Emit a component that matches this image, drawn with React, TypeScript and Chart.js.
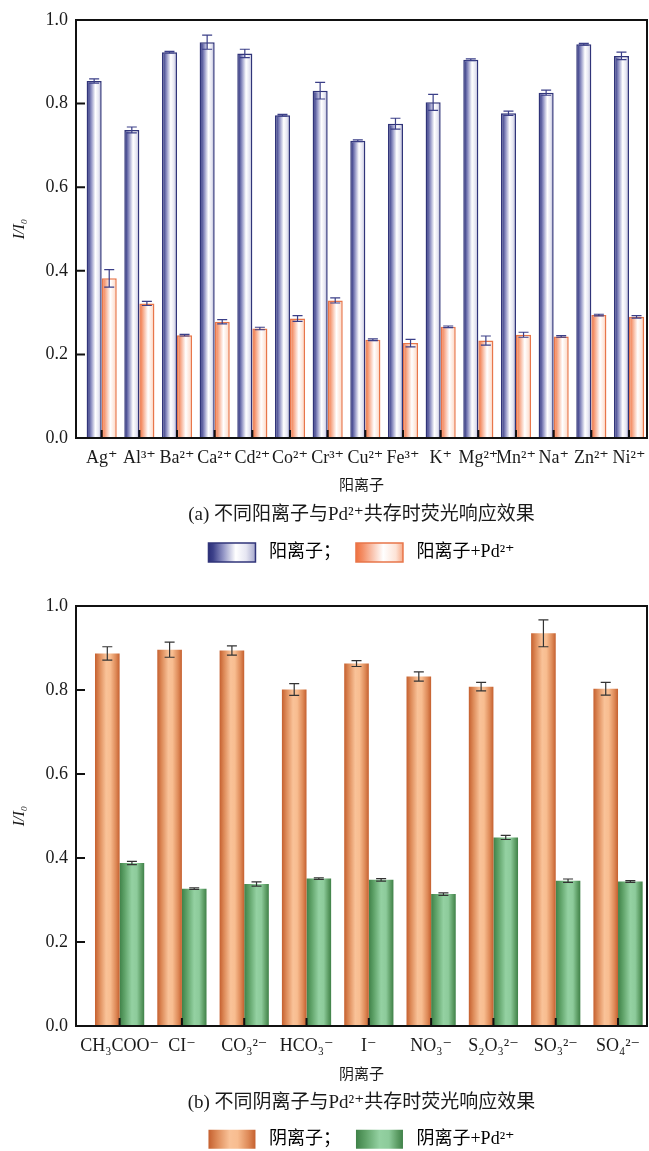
import { useEffect, useRef } from 'react';
import { Chart, registerables } from 'chart.js';

Chart.register(...registerables);

const SERIF = "'Liberation Serif', 'DejaVu Serif', 'Noto Sans CJK SC', serif";
const TEXT = '#1a1a1a';

// ---------- panel (a): cations ----------
const CATIONS = ['Ag⁺', 'Al³⁺', 'Ba²⁺', 'Ca²⁺', 'Cd²⁺', 'Co²⁺', 'Cr³⁺', 'Cu²⁺', 'Fe³⁺', 'K⁺', 'Mg²⁺', 'Mn²⁺', 'Na⁺', 'Zn²⁺', 'Ni²⁺'];
const CATION_ALONE = [0.854, 0.737, 0.923, 0.947, 0.920, 0.772, 0.831, 0.711, 0.752, 0.803, 0.905, 0.777, 0.826, 0.942, 0.914];
const CATION_ALONE_ERR = [0.005, 0.007, 0.002, 0.017, 0.010, 0.002, 0.020, 0.002, 0.013, 0.019, 0.002, 0.005, 0.006, 0.002, 0.009];
const CATION_PD = [0.382, 0.322, 0.246, 0.278, 0.262, 0.286, 0.329, 0.235, 0.227, 0.266, 0.233, 0.247, 0.243, 0.294, 0.290];
const CATION_PD_ERR = [0.021, 0.005, 0.002, 0.005, 0.003, 0.007, 0.006, 0.002, 0.009, 0.002, 0.011, 0.006, 0.002, 0.002, 0.003];
const LEGEND_A = [' 阳离子；', ' 阳离子+Pd²⁺'];

// ---------- panel (b): anions ----------
const ANIONS = ['CH₃COO⁻', 'CI⁻', 'CO₃²⁻', 'HCO₃⁻', 'I⁻', 'NO₃⁻', 'S₂O₃²⁻', 'SO₃²⁻', 'SO₄²⁻'];
const ANION_ALONE = [0.887, 0.896, 0.894, 0.801, 0.863, 0.832, 0.808, 0.935, 0.803];
const ANION_ALONE_ERR = [0.016, 0.018, 0.011, 0.014, 0.007, 0.011, 0.010, 0.032, 0.015];
const ANION_PD = [0.388, 0.327, 0.338, 0.351, 0.348, 0.314, 0.449, 0.346, 0.344];
const ANION_PD_ERR = [0.004, 0.002, 0.005, 0.002, 0.003, 0.003, 0.005, 0.004, 0.002];
const LEGEND_B = [' 阴离子；', ' 阴离子+Pd²⁺'];

const Y_TICKS = [0, 0.2, 0.4, 0.6, 0.8, 1.0];

type Stop = [number, string];

const A_BLUE: Stop[] = [[0, '#2c307a'], [0.1, '#3d418a'], [0.32, '#9496c6'], [0.58, '#ffffff'], [0.8, '#e6e6f2'], [1, '#a6a8cc']];
const A_ORANGE: Stop[] = [[0, '#f0703e'], [0.15, '#f49068'], [0.58, '#ffffff'], [0.85, '#fde3d6'], [1, '#f6aa88']];
const B_ORANGE: Stop[] = [[0, '#c5602f'], [0.18, '#dd8a58'], [0.45, '#f9c298'], [0.62, '#f8bd90'], [0.85, '#de8a58'], [1, '#c5602f']];
const B_GREEN: Stop[] = [[0, '#3f8148'], [0.2, '#5fa268'], [0.5, '#94d1a2'], [0.7, '#8dcb9b'], [0.88, '#5e9e66'], [1, '#3f8148']];

function grad(ctx: CanvasRenderingContext2D, x0: number, x1: number, stops: Stop[]) {
  const g = ctx.createLinearGradient(x0, 0, x1, 0);
  for (const [o, c] of stops) g.addColorStop(o, c);
  return g;
}

interface PanelSpec {
  categories: string[];
  values: number[][];
  errors: number[][];
  xMin: number;
  xMax: number;
  catPct: number;
  fills: Stop[][];
  borders: string[];
  borderWidth: number;
  legendTexts: string[];
  legendStroke: number;
  errColor: string;
  xTitle: string;
  caption: string;
  padTop: number;
  padBottom: number;
  xHeight: number;
  xTickLen: number;
  capTop: number;
  capBottom: number;
  legendMaxH: number;
}

function makeConfig(s: PanelSpec): any {
  const fillFor = (c: any) => {
    const chart = c.chart;
    const xs = chart.scales && chart.scales.x;
    const d = c.datasetIndex ?? 0;
    if (!xs || c.dataIndex === undefined) return s.fills[d][2][1];
    const center = xs.getPixelForValue(c.dataIndex);
    const w = (xs.getPixelForValue(1) - xs.getPixelForValue(0)) * s.catPct / 2;
    const left = d === 0 ? center - w : center;
    return grad(chart.ctx, left, left + w, s.fills[d]);
  };

  const panelPlugin = {
    id: 'panelDecor',
    beforeDraw(chart: any) {
      const lg = chart.legend;
      if (!lg || !lg.legendItems || !lg.legendHitBoxes) return;
      const bw = lg.options.labels.boxWidth;
      lg.legendItems.forEach((it: any, i: number) => {
        const hb = lg.legendHitBoxes[i];
        if (hb) it.fillStyle = grad(chart.ctx, hb.left, hb.left + bw, s.fills[i]);
      });
    },
    afterDatasetsDraw(chart: any) {
      const ctx: CanvasRenderingContext2D = chart.ctx;
      const xs = chart.scales.x;
      const ys = chart.scales.y;
      const ca = chart.chartArea;
      ctx.save();
      // error bars
      ctx.strokeStyle = s.errColor;
      ctx.lineWidth = 1.2;
      chart.data.datasets.forEach((ds: any, d: number) => {
        const meta = chart.getDatasetMeta(d);
        meta.data.forEach((bar: any, i: number) => {
          const v = ds.data[i].y;
          const e = ds.errors[i];
          const x = bar.x;
          const yT = ys.getPixelForValue(v + e);
          const yB = ys.getPixelForValue(v - e);
          const cap = 5;
          ctx.beginPath();
          ctx.moveTo(x, yT);
          ctx.lineTo(x, yB);
          ctx.moveTo(x - cap, yT);
          ctx.lineTo(x + cap, yT);
          ctx.moveTo(x - cap, yB);
          ctx.lineTo(x + cap, yB);
          ctx.stroke();
        });
      });
      // frame
      ctx.strokeStyle = '#111';
      ctx.lineWidth = 2;
      ctx.strokeRect(ca.left, ca.top, ca.right - ca.left, ca.bottom - ca.top);
      ctx.beginPath();
      for (const t of Y_TICKS) {
        const y = ys.getPixelForValue(t);
        ctx.moveTo(ca.left, y);
        ctx.lineTo(ca.left + 9, y);
      }
      s.categories.forEach((_, i) => {
        const x = xs.getPixelForValue(i);
        ctx.moveTo(x, ca.bottom);
        ctx.lineTo(x, ca.bottom - 8);
      });
      ctx.stroke();
      ctx.restore();
    },
  };

  return {
    type: 'bar',
    data: {
      datasets: s.values.map((vals, d) => ({
        label: s.legendTexts[d],
        data: vals.map((v, i) => ({ x: i, y: v })),
        errors: s.errors[d],
        backgroundColor: fillFor,
        borderColor: s.borders[d],
        borderWidth: s.borderWidth,
        borderSkipped: 'start',
        categoryPercentage: s.catPct,
        barPercentage: 1,
      })),
    },
    options: {
      animation: false,
      responsive: false,
      events: [],
      layout: { padding: { left: 0, right: 2, top: s.padTop, bottom: s.padBottom } },
      scales: {
        x: {
          type: 'linear',
          min: s.xMin,
          max: s.xMax,
          bounds: 'data',
          offset: false,
          afterBuildTicks: (sc: any) => {
            sc.ticks = s.categories.map((_, i) => ({ value: i }));
          },
          afterFit: (sc: any) => {
            sc.height = s.xHeight;
          },
          grid: { display: true, offset: false, drawOnChartArea: false, drawTicks: true, tickLength: s.xTickLen, color: 'rgba(0,0,0,0)' },
          border: { display: false },
          ticks: {
            autoSkip: false,
            maxRotation: 0,
            minRotation: 0,
            padding: 0,
            color: TEXT,
            font: { family: SERIF, size: 18 },
            callback: (v: number) => s.categories[Math.round(v)] ?? '',
          },
          title: {
            display: true,
            text: s.xTitle,
            color: TEXT,
            font: { family: SERIF, size: 15 },
            padding: { top: 0, bottom: 0 },
          },
        },
        y: {
          type: 'linear',
          min: 0,
          max: 1,
          afterBuildTicks: (sc: any) => {
            sc.ticks = Y_TICKS.map((v) => ({ value: v }));
          },
          afterFit: (sc: any) => {
            sc.width = 76;
          },
          grid: { display: true, drawOnChartArea: false, drawTicks: true, tickLength: 8, color: 'rgba(0,0,0,0)' },
          border: { display: false },
          ticks: {
            padding: 0,
            color: TEXT,
            font: { family: SERIF, size: 18 },
            callback: (v: number) => v.toFixed(1),
          },
          title: {
            display: true,
            text: 'I/I₀',
            color: TEXT,
            font: { family: SERIF, size: 16, style: 'italic' },
            padding: { top: 10, bottom: 0 },
          },
        },
      },
      plugins: {
        tooltip: { enabled: false },
        title: {
          display: true,
          text: s.caption,
          position: 'bottom',
          fullSize: false,
          weight: 500,
          color: TEXT,
          font: { family: SERIF, size: 19, weight: 'normal' },
          padding: { top: s.capTop, bottom: s.capBottom },
        },
        legend: {
          display: true,
          position: 'bottom',
          fullSize: false,
          maxHeight: s.legendMaxH,
          labels: {
            boxWidth: 47,
            boxHeight: 19,
            padding: 15,
            color: TEXT,
            font: { family: SERIF, size: 18 },
            generateLabels: () =>
              s.legendTexts.map((t, i) => ({
                text: t,
                fillStyle: '#ffffff',
                strokeStyle: s.borders[i],
                lineWidth: s.legendStroke,
                hidden: false,
                datasetIndex: i,
              })),
          },
        },
      },
    },
    plugins: [panelPlugin],
  };
}

const SPEC_A: PanelSpec = {
  categories: CATIONS,
  values: [CATION_ALONE, CATION_PD],
  errors: [CATION_ALONE_ERR, CATION_PD_ERR],
  xMin: -0.682,
  xMax: 14.478,
  catPct: 0.8,
  fills: [A_BLUE, A_ORANGE],
  borders: ['#303479', '#e8764a'],
  borderWidth: 1.5,
  legendTexts: LEGEND_A,
  legendStroke: 1.5,
  errColor: '#3b3f88',
  xTitle: '阳离子',
  caption: '(a) 不同阳离子与Pd²⁺共存时荧光响应效果',
  padTop: 20,
  padBottom: 11,
  xHeight: 57,
  xTickLen: 9,
  capTop: 8.6,
  capBottom: 1.6,
  legendMaxH: 36,
};

const SPEC_B: PanelSpec = {
  categories: ANIONS,
  values: [ANION_ALONE, ANION_PD],
  errors: [ANION_ALONE_ERR, ANION_PD_ERR],
  xMin: -0.70,
  xMax: 8.465,
  catPct: 0.79,
  fills: [B_ORANGE, B_GREEN],
  borders: ['#c5602f', '#3f8148'],
  borderWidth: 0,
  legendTexts: LEGEND_B,
  legendStroke: 0,
  errColor: '#333333',
  xTitle: '阴离子',
  caption: '(b) 不同阴离子与Pd²⁺共存时荧光响应效果',
  padTop: 31,
  padBottom: 1.2,
  xHeight: 58,
  xTickLen: 9,
  capTop: 8,
  capBottom: 0,
  legendMaxH: 35,
};

function Panel({ spec, top, height }: { spec: PanelSpec; top: number; height: number }) {
  const ref = useRef<HTMLCanvasElement | null>(null);
  useEffect(() => {
    if (!ref.current) return;
    const chart = new Chart(ref.current, makeConfig(spec));
    return () => chart.destroy();
  }, [spec]);
  return (
    <canvas
      ref={ref}
      width={649}
      height={height}
      style={{ position: 'absolute', left: 0, top, width: 649, height, display: 'block' }}
    />
  );
}

export default function App() {
  return (
    <div style={{ position: 'absolute', left: 0, top: 0, width: 649, height: 1151, background: '#ffffff', overflow: 'hidden' }}>
      <Panel spec={SPEC_A} top={0} height={575} />
      <Panel spec={SPEC_B} top={575} height={576} />
    </div>
  );
}
